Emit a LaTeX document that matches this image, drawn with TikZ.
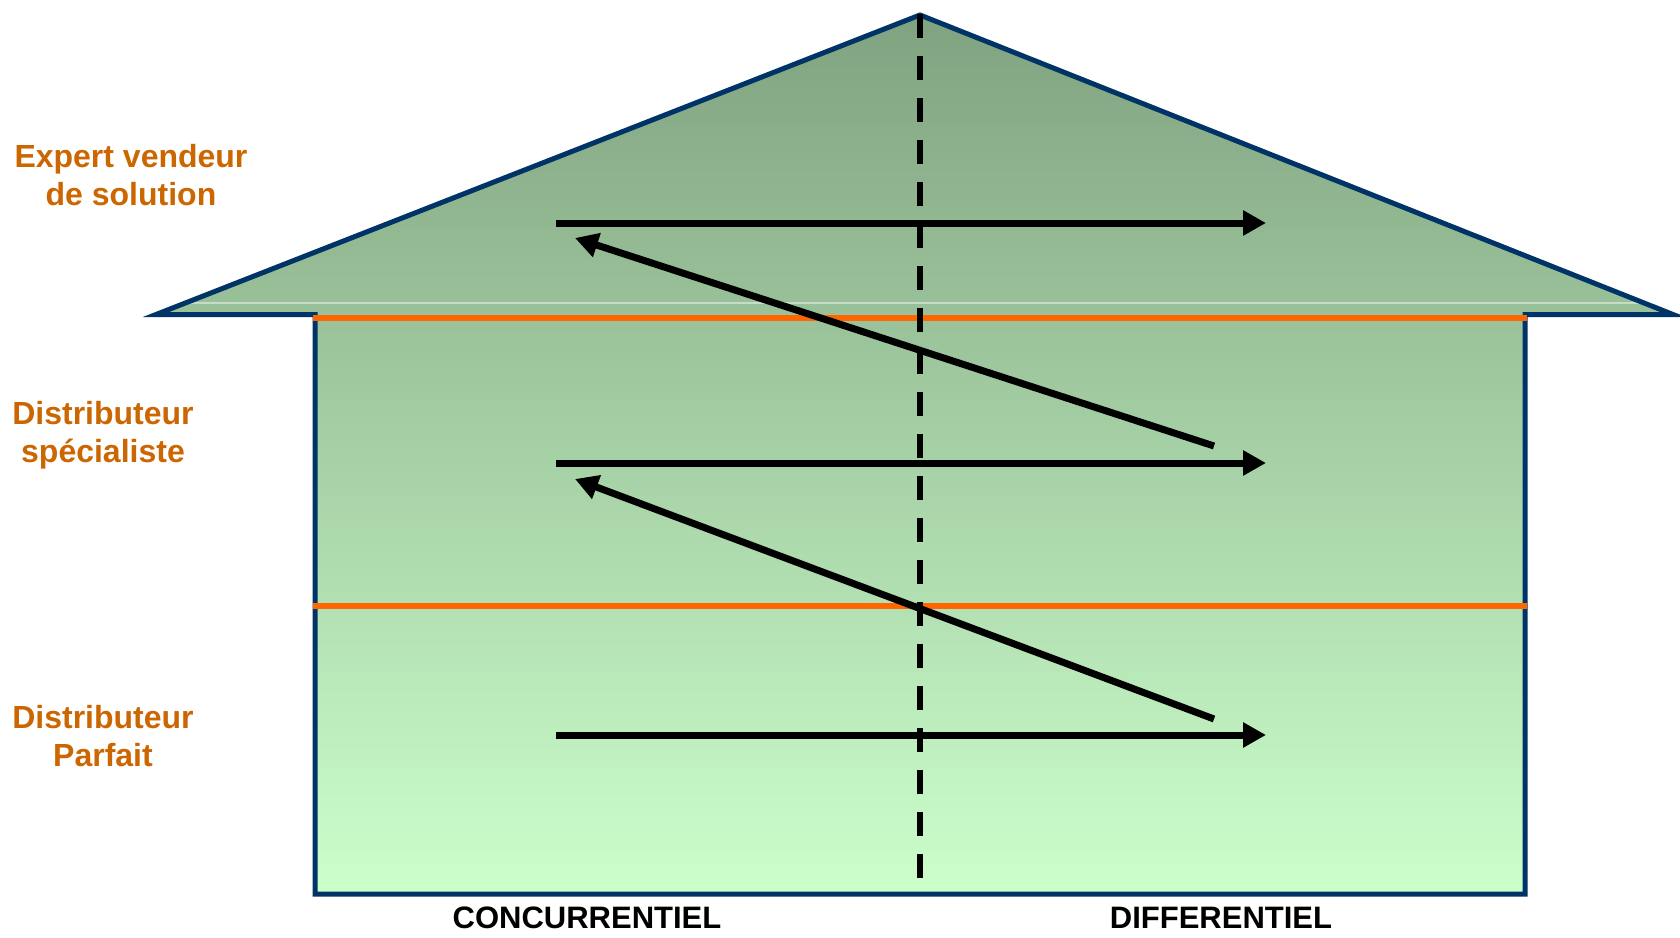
\documentclass[tikz,border=0pt]{standalone}
\usepackage{fontspec}
\setmainfont{Liberation Sans}
\usepackage{tikz}
\usetikzlibrary{arrows.meta}
\definecolor{housenavy}{RGB}{0,51,102}
\definecolor{floororange}{RGB}{255,102,0}
\definecolor{labelorange}{RGB}{204,102,0}
\definecolor{rooftop}{RGB}{128,162,128}
\definecolor{floorlight}{RGB}{204,255,204}

\begin{document}
\begin{tikzpicture}[
    x=1pt,y=-1pt,
    wall/.style={draw=housenavy,line width=5pt,line join=miter},
    floorline/.style={draw=floororange,line width=6pt},
    divider/.style={draw=black,line width=6pt,dash pattern=on 24pt off 18pt},
    arrow/.style={-{Triangle[length=23pt,width=24pt]},line width=7pt},
    level/.style={text=labelorange,font=\bfseries\fontsize{32}{38}\selectfont,align=center},
    axis/.style={inner sep=1pt,font=\bfseries\fontsize{31}{36}\selectfont}
]
\useasboundingbox (0,0) rectangle (1680,937);
\path[top color=rooftop,bottom color=floorlight]
    (156,314.5) -- (920,15) -- (1673,314.5) -- (1525,314.5) -- (1525,894) -- (315,894) -- (315,314.5) -- cycle;
\draw[white,opacity=0.45,line width=1.5pt] (180,303) -- (1643,303);
\path[wall]
    (156,314.5) -- (920,15) -- (1673,314.5) -- (1525,314.5) -- (1525,894) -- (315,894) -- (315,314.5) -- cycle;
\draw[floorline] (313,318) -- (1527,318);
\draw[floorline] (313,606) -- (1527,606);
\coordinate (top) at (920,14);
\coordinate (bot) at (920,878);
\draw[divider] (top) -- (bot);
\coordinate (h1s) at (556,223);
\coordinate (h1e) at (1266,223);
\coordinate (h2s) at (556,463);
\coordinate (h2e) at (1266,463);
\coordinate (h3s) at (556,735);
\coordinate (h3e) at (1266,735);
\coordinate (d1s) at (1214,446);
\coordinate (d1e) at (575,238);
\coordinate (d2s) at (1214,719);
\coordinate (d2e) at (575,479);
\draw[arrow] (h1s) -- (h1e);
\draw[arrow] (h2s) -- (h2e);
\draw[arrow] (h3s) -- (h3e);
\draw[arrow] (d1s) -- (d1e);
\draw[arrow] (d2s) -- (d2e);
\node[level] (expert) at (131,175) {Expert vendeur\\de solution};
\node[level] (special) at (103,435) {Distributeur\\spécialiste};
\node[level] (parfait) at (103,736) {Distributeur\\Parfait};
\node[axis] (conc) at (587,918) {CONCURRENTIEL};
\node[axis] (diff) at (1221,918) {DIFFERENTIEL};
\end{tikzpicture}
\end{document}
